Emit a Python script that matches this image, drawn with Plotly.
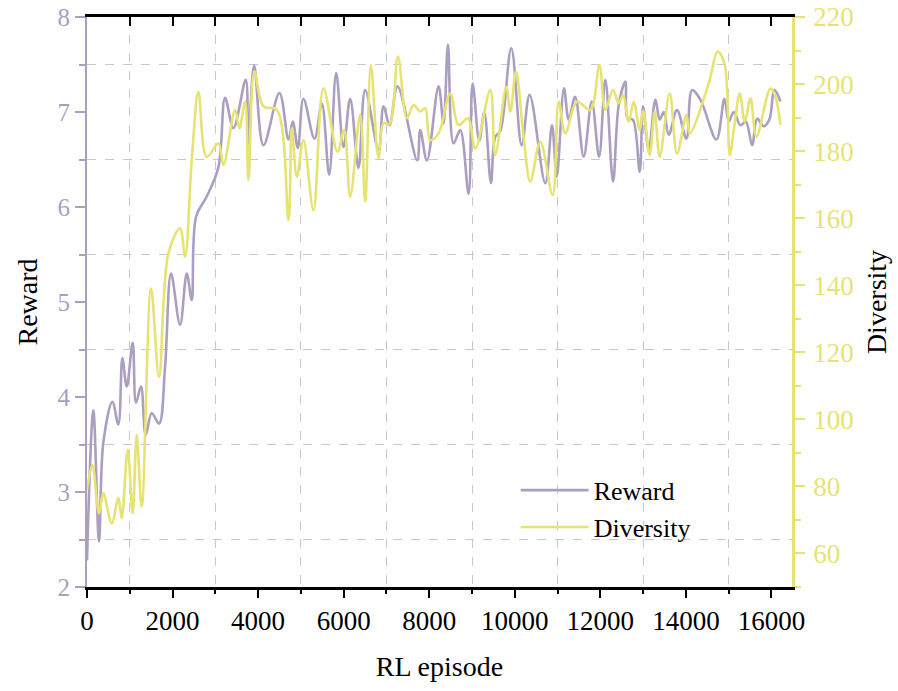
import plotly.graph_objects as go

# ---- data ----
reward_ep = [0, 148, 281, 382, 593, 733, 827, 928, 1068, 1146, 1263, 1372, 1513, 1684, 1825, 1965,
             2175, 2332, 2448, 2550, 2799, 3072, 3228, 3422, 3712, 3766, 3906, 4124, 4499, 4710,
             4811, 4928, 5060, 5318, 5490, 5661, 5825, 5996, 6152, 6347, 6503, 6815, 6932, 7072,
             7259, 7719, 7790, 7946, 8218, 8335, 8437, 8569, 8725, 8920, 9014, 9170, 9287, 9443,
             9544, 9661, 9918, 10160, 10347, 10713, 10870, 10980, 11150, 11259, 11410, 11610,
             11800, 11970, 12117, 12297, 12429, 12585, 12639, 12760, 12920, 12998, 13130, 13287,
             13387, 13481, 13598, 13793, 14012, 14144, 14339, 14713, 14901, 15002, 15119, 15275,
             15400, 15548, 15665, 15820, 15950, 16070, 16211]
reward = [2.28, 3.86, 2.48, 3.52, 3.95, 3.71, 4.41, 4.11, 4.57, 3.94, 4.11, 3.60, 3.83, 3.72, 4.32, 5.30,
          4.76, 5.30, 5.02, 5.90, 6.11, 6.42, 7.15, 6.83, 7.34, 6.67, 7.49, 6.65, 7.20, 6.71,
          6.90, 6.62, 7.14, 6.72, 7.09, 6.34, 7.41, 6.63, 7.14, 6.41, 7.23, 6.60, 7.06, 6.86,
          7.27, 6.49, 6.81, 6.49, 7.27, 6.88, 7.71, 6.67, 6.81, 6.14, 7.30, 6.70, 7.00, 6.25,
          6.74, 6.80, 7.67, 6.65, 7.18, 6.25, 6.86, 6.32, 7.25, 6.92, 7.16, 6.53,
          7.11, 6.53, 7.34, 6.27, 7.07, 7.32, 6.93, 6.92, 6.37, 7.06, 6.60, 7.13,
          6.92, 7.00, 6.76, 7.02, 6.72, 7.23, 7.13, 6.71, 7.14, 6.90, 7.00, 6.86,
          6.90, 6.65, 6.93, 6.85, 6.92, 7.23, 7.11]

div_ep = [0, 125, 281, 382, 577, 733, 811, 951, 1068, 1162, 1279, 1497, 1684, 1902, 2175, 2292,
          2449, 2604, 2799, 3072, 3189, 3462, 3563, 3696, 3774, 3914, 4124, 4437, 4710, 4788,
          4905, 5060, 5294, 5528, 5856, 6012, 6152, 6386, 6503, 6636, 6815, 6932, 7072, 7267,
          7478, 7634, 7790, 7906, 8023, 8218, 8491, 8686, 8905, 9076, 9427, 9544, 9801, 9895,
          10028, 10206, 10363, 10597, 10885, 11026, 11181, 11455, 11766, 11977, 12117, 12297,
          12429, 12531, 12663, 12780, 12920, 13000, 13154, 13271, 13387, 13621, 13793, 14012,
          14089, 14534, 14744, 14901, 15025, 15119, 15259, 15376, 15509, 15649, 15977, 16094, 16211]
diversity = [79, 86.4, 72, 78, 69, 76.5, 70.5, 90.9, 72, 95.3, 74, 139.1, 112.7, 149.5, 157, 148.5,
             177.4, 197.7, 178.3, 182.3, 175.9, 192.3, 186.8, 194.7, 171.4, 203.7, 193.3, 192.3, 159.5, 186.8,
             172.4, 183.3, 162.4, 198.7, 179.8, 186.3, 166.4, 190.8, 164.9, 205.7, 177.9, 188.3, 188.0, 208.2,
             189.8, 193.8, 191.8, 192.8, 183.3, 185.3, 197.2, 187.8, 189.8, 180.8, 198.2, 178.8, 199.2, 191.8,
             203.7, 184.3, 170.9, 182.8, 166.9, 194.7, 185.3, 194.7, 192.3, 205.7, 192.3, 198.2,
             194.3, 196.7, 188.8, 194.7, 186.3, 192.0, 178.8, 191.8, 178.3, 197.2, 179.3, 190.8,
             185.3, 200.2, 209.7, 206.2, 178.8, 186.3, 197.2, 188.8, 195.7, 184.3, 198.7, 196.2, 187.8]

x_ticks = [0, 2000, 4000, 6000, 8000, 10000, 12000, 14000, 16000]
x_ticklabels = [str(v) for v in x_ticks]

PURPLE = "#ab9fc1"
YELLOW = "#e6e373"
FONT = "Liberation Serif"
X_RANGE = [0, 16480]

fig = go.Figure()
fig.add_trace(go.Scatter(x=reward_ep, y=reward, name="Reward", mode="lines",
                         line=dict(color=PURPLE, width=2.6, shape="spline", smoothing=1.0)))
fig.add_trace(go.Scatter(x=div_ep, y=diversity, name="Diversity", mode="lines",
                         xaxis="x2", yaxis="y2",
                         line=dict(color=YELLOW, width=2.6, shape="spline", smoothing=1.0)))

fig.update_layout(
    width=898, height=691,
    margin=dict(l=87, r=106, t=17, b=104, autoexpand=False),
    paper_bgcolor="white", plot_bgcolor="white",
    font=dict(family=FONT, color="black"),
    xaxis=dict(range=X_RANGE, tickvals=x_ticks, ticktext=x_ticklabels, ticks="outside",
               ticklen=8, tickwidth=2, automargin=False,
               tickcolor="black", showline=True, linecolor="black", linewidth=2.5,
               showgrid=False, zeroline=False,
               tickfont=dict(family=FONT, size=27, color="black"),
               title=dict(text="RL episode", font=dict(family=FONT, size=28, color="black"), standoff=22),
               minor=dict(dtick=2000, tick0=1000, ticks="outside", ticklen=4, tickwidth=1.5,
                          tickcolor="black", showgrid=True, gridcolor="#c8c8c8",
                          griddash="dash", gridwidth=1)),
    xaxis2=dict(range=X_RANGE, overlaying="x", side="top", anchor="y2", automargin=False,
                dtick=1000, tick0=0, ticks="inside", ticklen=9, tickwidth=2, tickcolor="black",
                showticklabels=False, showline=True, linecolor="black", linewidth=2.5,
                showgrid=False, zeroline=False),
    yaxis=dict(range=[2, 8], dtick=1, ticks="outside", ticklen=10, tickwidth=2, automargin=False,
               tickcolor=PURPLE, showline=True, linecolor=PURPLE, linewidth=2,
               showgrid=False, zeroline=False,
               tickfont=dict(family=FONT, size=25, color=PURPLE),
               title=dict(text="Reward", font=dict(family=FONT, size=28, color="black"), standoff=12),
               minor=dict(dtick=1, tick0=2.5, ticks="outside", ticklen=6, tickwidth=1.5,
                          tickcolor=PURPLE, showgrid=True, gridcolor="#c8c8c8",
                          griddash="dash", gridwidth=1)),
    yaxis2=dict(range=[50, 220], dtick=20, tick0=60, overlaying="y", side="right", anchor="x2",
                automargin=False,
                ticks="outside", ticklen=10, tickwidth=2, tickcolor=YELLOW, ticklabelstandoff=3,
                showline=True, linecolor=YELLOW, linewidth=2.5, showgrid=False, zeroline=False,
                tickfont=dict(family=FONT, size=27, color=YELLOW),
                title=dict(text="Diversity", font=dict(family=FONT, size=28, color="black"), standoff=14),
                minor=dict(dtick=20, tick0=50, ticks="outside", ticklen=6, tickwidth=1.5,
                           tickcolor=YELLOW)),
    legend=dict(x=0.608, y=0.211, xanchor="left", yanchor="top", bgcolor="rgba(0,0,0,0)",
                font=dict(family=FONT, size=26, color="black"), itemwidth=68,
                tracegroupgap=0),
    showlegend=True,
)

fig.write_html("out.html")
